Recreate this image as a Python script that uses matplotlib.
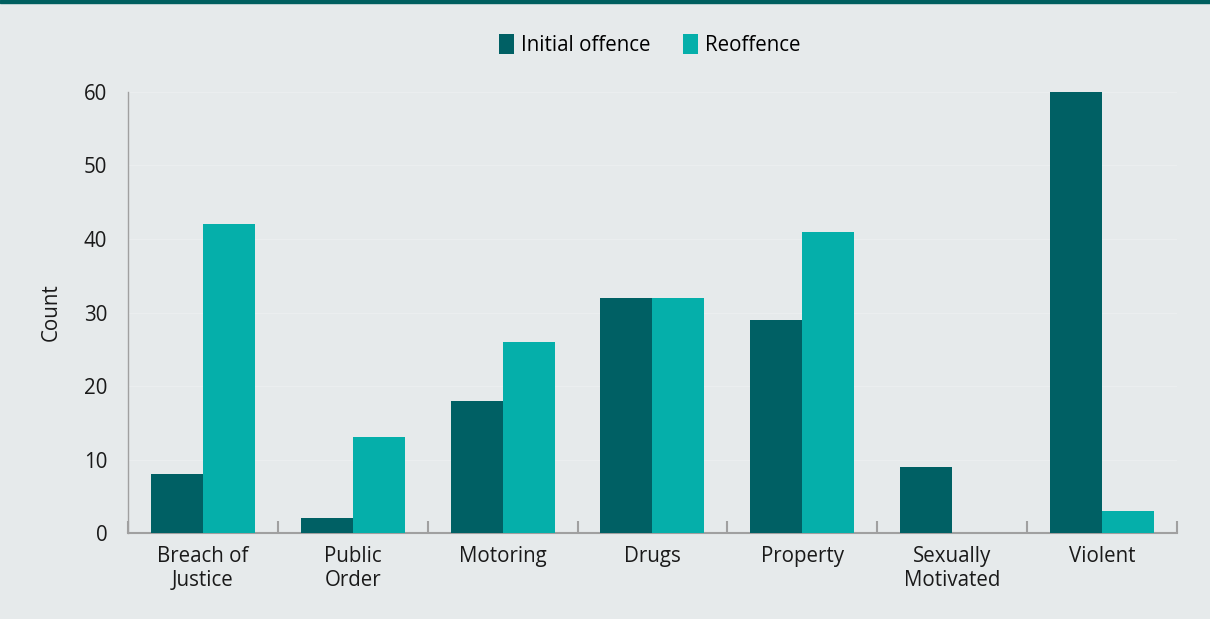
import numpy as np
import matplotlib
matplotlib.use('Agg')
from matplotlib import pyplot as plt

plt.rcParams['font.family'] = ['Open Sans', 'DejaVu Sans']

categories = ['Breach of\nJustice', 'Public\nOrder', 'Motoring', 'Drugs',
              'Property', 'Sexually\nMotivated', 'Violent']
initial = [8, 2, 18, 32, 29, 9, 60]
reoffence = [42, 13, 26, 32, 41, 0, 3]

bg = '#e6eaeb'
dark = '#006064'
light = '#05afaa'
axis_grey = '#a0a0a0'
txt = '#1a1a1a'
fs = 14.8

fig = plt.figure(figsize=(12.1, 6.19), dpi=100, facecolor=bg)
ax = fig.add_axes([0.1058, 0.1389, 0.8669, 0.7125])
ax.set_facecolor(bg)

x = np.arange(len(categories))
w = 0.347
ax.bar(x - w/2, initial, w, color=dark, label='Initial offence', zorder=3)
ax.bar(x + w/2, reoffence, w, color=light, label='Reoffence', zorder=3)

ax.set_xlim(-0.5, len(categories) - 0.5)
ax.set_ylim(0, 60)
ax.set_yticks(range(0, 61, 10))
ax.yaxis.grid(True, color='#ebeeef', linewidth=0.8, zorder=0)

# category labels centred, boundary ticks drawn as minor ticks
ax.set_xticks(x)
ax.set_xticklabels(categories, fontsize=fs, color=txt, linespacing=1.2)
ax.tick_params(axis='x', which='major', length=0, pad=9)
ax.set_xticks(np.arange(-0.5, len(categories), 1), minor=True)
ax.tick_params(axis='x', which='minor', direction='in', length=9, width=1.5, color=axis_grey)
ax.tick_params(axis='y', length=0, labelsize=fs, labelcolor=txt, pad=15)

for s in ['top', 'right']:
    ax.spines[s].set_visible(False)
ax.spines['left'].set_color(axis_grey)
ax.spines['bottom'].set_color(axis_grey)
ax.spines['bottom'].set_linewidth(1.5)
ax.spines['left'].set_linewidth(1.0)

ax.set_ylabel('Count', fontsize=fs, color=txt, labelpad=16)

fig.legend(loc='center', bbox_to_anchor=(0.537, 0.927), ncol=2, frameon=False,
           fontsize=fs, handlelength=0.7, handleheight=1.1, handletextpad=0.35,
           columnspacing=1.6)

# teal bar along the top edge
fig.add_artist(plt.Rectangle((0, 0.995), 1, 0.005, transform=fig.transFigure,
                             color='#005f5f', zorder=10))

fig.savefig('out.png', dpi=100, facecolor=bg)
